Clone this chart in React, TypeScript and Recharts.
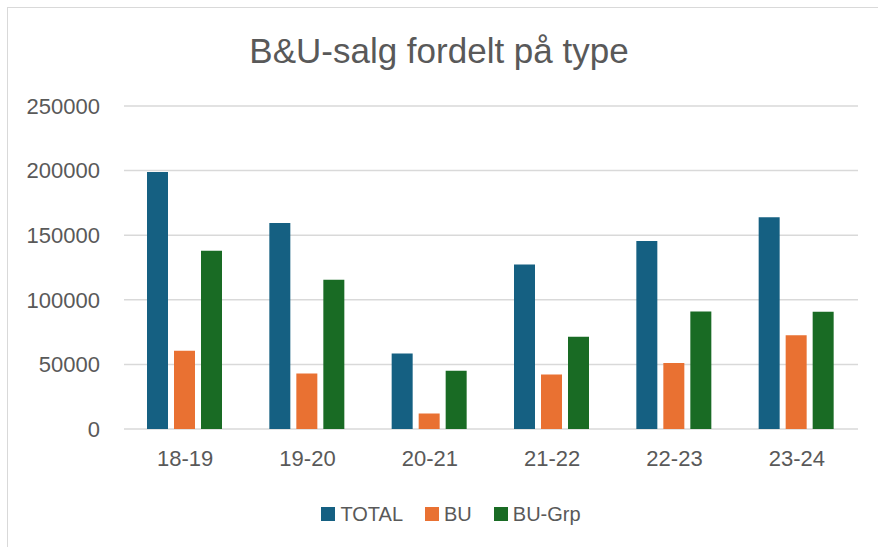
import React from 'react';
import { BarChart, Bar, XAxis, YAxis, CartesianGrid, Legend } from 'recharts';

const categories = ['18-19', '19-20', '20-21', '21-22', '22-23', '23-24'];
const seriesNames = ['TOTAL', 'BU', 'BU-Grp'];
const totalValues = [199000, 159500, 58500, 127300, 145500, 163800];
const buValues = [60500, 43000, 12000, 42200, 51000, 72500];
const buGrpValues = [138000, 115500, 45000, 71400, 91000, 90800];
const yTicks = [0, 50000, 100000, 150000, 200000, 250000];

const data = categories.map((c, i) => ({
  name: c,
  TOTAL: totalValues[i],
  BU: buValues[i],
  'BU-Grp': buGrpValues[i],
}));

const FONT = '"Liberation Sans", Arial, sans-serif';
const TEXT = '#595959';

const renderLegend = (props: any) => {
  const payload = [...(props.payload || [])].sort(
    (a: any, b: any) => seriesNames.indexOf(a.value) - seriesNames.indexOf(b.value)
  );
  return (
    <div
      style={{
        display: 'flex',
        justifyContent: 'center',
        alignItems: 'center',
        height: 40,
        paddingLeft: 44,
        fontFamily: FONT,
        fontSize: 20,
        color: TEXT,
      }}
    >
      {payload.map((e: any, i: number) => (
        <div key={i} style={{ display: 'flex', alignItems: 'center', marginLeft: i ? 22 : 0 }}>
          <span
            style={{ width: 14, height: 14, background: e.color, marginRight: 5, display: 'inline-block' }}
          />
          <span>{e.value}</span>
        </div>
      ))}
    </div>
  );
};

export default function App() {
  return (
    <div style={{ position: 'relative', width: 878, height: 547, overflow: 'hidden', background: '#fff' }}>
      <style>{`body{margin:0;overflow:hidden;background:#fff}`}</style>
      <div
        style={{
          position: 'absolute',
          left: 7,
          top: 7,
          width: 880,
          height: 560,
          borderTop: '1.5px solid #d9d9d9',
          borderLeft: '1.5px solid #d9d9d9',
          boxSizing: 'border-box',
        }}
      />
      <div
        style={{
          position: 'absolute',
          left: 0,
          top: 27,
          width: 878,
          textAlign: 'center',
          fontFamily: FONT,
          fontSize: 35,
          lineHeight: '48px',
          color: TEXT,
        }}
      >
        B&amp;U-salg fordelt på type
      </div>
      <div style={{ position: 'absolute', left: 0, top: 0 }}>
        <BarChart
          width={878}
          height={547}
          data={data}
          margin={{ top: 106, right: 20, left: 0, bottom: 13 }}
          barCategoryGap={23}
          barGap={6}
        >
          <CartesianGrid vertical={false} stroke="#d9d9d9" strokeWidth={1.5} />
          <XAxis
            dataKey="name"
            axisLine={false}
            tickLine={false}
            tickSize={0}
            tickMargin={21}
            height={65}
            tick={{ fontSize: 22, fill: TEXT, fontFamily: FONT }}
          />
          <YAxis
            domain={[0, 250000]}
            ticks={yTicks}
            axisLine={false}
            tickLine={false}
            tickSize={0}
            tickMargin={24}
            width={124}
            interval={0}
            tick={{ fontSize: 22, fill: TEXT, fontFamily: FONT }}
          />
          <Legend verticalAlign="bottom" height={40} content={renderLegend} />
          <Bar dataKey="TOTAL" fill="#156082" isAnimationActive={false} />
          <Bar dataKey="BU" fill="#E97132" isAnimationActive={false} />
          <Bar dataKey="BU-Grp" fill="#196B24" isAnimationActive={false} />
        </BarChart>
      </div>
    </div>
  );
}
